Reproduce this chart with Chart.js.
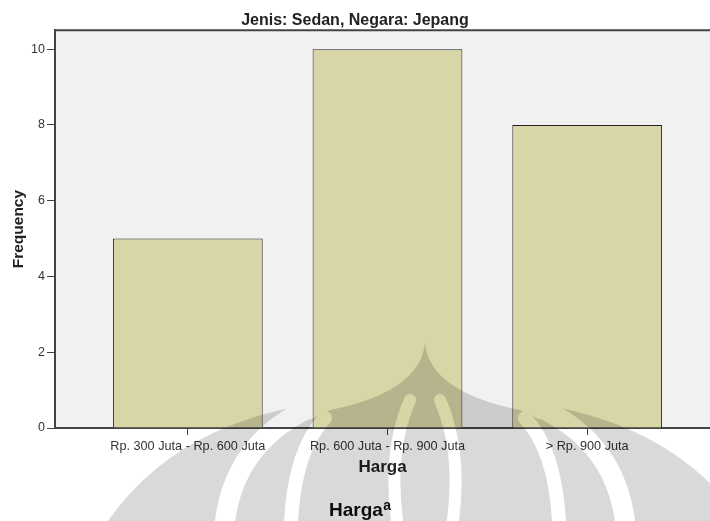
<!DOCTYPE html>
<html>
<head>
<meta charset="utf-8">
<script src="https://cdn.jsdelivr.net/npm/chart.js@4.4.1/dist/chart.umd.min.js"></script>
<style>
  html, body { margin: 0; padding: 0; background: #fff; overflow: hidden; }
  #wrap { width: 710px; height: 521px; position: relative; }
</style>
</head>
<body>
<div id="wrap"><canvas id="chart"></canvas></div>
<script>
const chartTitle = 'Jenis: Sedan, Negara: Jepang';
const hargaLabels = ['Rp. 300 Juta - Rp. 600 Juta', 'Rp. 600 Juta - Rp. 900 Juta', '> Rp. 900 Juta'];
const hargaPos = [0, 1, 2];
const frequency = [5, 10, 8];
const yTicks = [0, 2, 4, 6, 8, 10];

const FONT = '"Liberation Sans", Arial, Helvetica, sans-serif';
Chart.defaults.font.family = FONT;
Chart.defaults.color = '#333';

// grey plot background + top frame line
const plotFramePlugin = {
  id: 'plotFrame',
  beforeDraw(chart) {
    const { ctx, chartArea } = chart;
    ctx.save();
    ctx.fillStyle = '#f1f1f1';
    ctx.fillRect(chartArea.left, chartArea.top, chartArea.right - chartArea.left, chartArea.bottom - chartArea.top);
    ctx.strokeStyle = '#444';
    ctx.lineWidth = 2;
    ctx.beginPath();
    ctx.moveTo(chartArea.left, chartArea.top);
    ctx.lineTo(chartArea.right, chartArea.top);
    ctx.stroke();
    ctx.restore();
  }
};

// faint logo watermark laid over the page
function drawWatermark(ctx) {
  const off = document.createElement('canvas');
  off.width = 710;
  off.height = 521;
  const w = off.getContext('2d');
  w.fillStyle = '#000';

  w.beginPath();
  w.moveTo(312, 404);
  w.quadraticCurveTo(175, 425, 108, 521);
  w.lineTo(300, 521);
  w.closePath();
  w.fill();

  w.beginPath();
  w.moveTo(538, 404);
  w.quadraticCurveTo(675, 425, 742, 521);
  w.lineTo(550, 521);
  w.closePath();
  w.fill();

  w.beginPath();
  w.moveTo(425, 343);
  w.quadraticCurveTo(420, 392, 330, 410);
  w.quadraticCurveTo(250, 445, 246, 521);
  w.lineTo(604, 521);
  w.quadraticCurveTo(600, 445, 520, 410);
  w.quadraticCurveTo(430, 392, 425, 343);
  w.fill();

  w.globalCompositeOperation = 'destination-out';
  w.lineCap = 'round';
  const gaps = [
    [225, 521, 235, 445, 305, 410, 20],
    [291, 521, 295, 450, 325, 418, 14],
    [397, 521, 388, 450, 410, 400, 12],
    [453, 521, 462, 450, 440, 400, 12],
    [559, 521, 555, 450, 525, 418, 14],
    [625, 521, 615, 445, 545, 410, 20]
  ];
  gaps.forEach(g => {
    w.lineWidth = g[6];
    w.beginPath();
    w.moveTo(g[0], g[1] + 10);
    w.lineTo(g[0], g[1]);
    w.quadraticCurveTo(g[2], g[3], g[4], g[5]);
    w.stroke();
  });

  ctx.save();
  ctx.globalAlpha = 0.15;
  ctx.drawImage(off, 0, 0);
  ctx.restore();
}

const footerPlugin = {
  id: 'footerText',
  afterDraw(chart) {
    const { ctx } = chart;
    ctx.save();
    ctx.fillStyle = '#111';
    ctx.textBaseline = 'alphabetic';
    ctx.textAlign = 'left';
    ctx.font = 'bold 19px ' + FONT;
    ctx.fillText('Harga', 329, 516);
    const tw = ctx.measureText('Harga').width;
    ctx.font = 'bold 14px ' + FONT;
    ctx.fillText('a', 329 + tw + 0.5, 510);
    ctx.restore();
    drawWatermark(ctx);
  }
};

const ctx = document.getElementById('chart').getContext('2d');

new Chart(ctx, {
  type: 'bar',
  data: {
    datasets: [{
      label: 'Frequency',
      data: hargaPos.map((x, i) => ({ x: x, y: frequency[i] })),
      backgroundColor: '#d8d5a7',
      borderColor: '#222',
      borderWidth: 1,
      barPercentage: 0.75,
      categoryPercentage: 1.0
    }]
  },
  options: {
    animation: false,
    responsive: true,
    maintainAspectRatio: false,
    layout: { padding: { left: 0, right: 0, top: 0, bottom: 33 } },
    plugins: {
      legend: { display: false },
      tooltip: { enabled: false },
      title: {
        display: true,
        text: chartTitle,
        color: '#222',
        font: { size: 16, weight: 'bold', lineHeight: 1.2 },
        padding: { top: 11, bottom: 0 }
      }
    },
    scales: {
      x: {
        type: 'linear',
        offset: false,
        min: -0.665,
        max: 2.615,
        afterBuildTicks(scale) {
          scale.ticks = hargaPos.map(v => ({ value: v }));
        },
        afterFit(scale) {
          scale.height = 60;
        },
        ticks: {
          autoSkip: false,
          maxRotation: 0,
          font: { size: 12.7 },
          color: '#333',
          padding: 4,
          callback: (v, i) => hargaLabels[i]
        },
        grid: {
          offset: false,
          drawOnChartArea: false,
          drawTicks: true,
          tickLength: 7,
          color: '#444',
          lineWidth: 1
        },
        border: { display: true, color: '#444', width: 2 },
        title: {
          display: true,
          text: 'Harga',
          color: '#222',
          font: { size: 17, weight: 'bold', lineHeight: 1.2 },
          padding: { top: 0, bottom: 10 }
        }
      },
      y: {
        min: 0,
        max: 10.5,
        afterBuildTicks(scale) {
          scale.ticks = yTicks.map(v => ({ value: v }));
        },
        afterFit(scale) {
          scale.width = 55;
        },
        ticks: {
          font: { size: 12.5 },
          color: '#333',
          padding: 2
        },
        grid: {
          drawOnChartArea: false,
          drawTicks: true,
          tickLength: 8,
          color: '#444',
          lineWidth: 1
        },
        border: { display: true, color: '#444', width: 2 },
        title: {
          display: true,
          text: 'Frequency',
          color: '#222',
          font: { size: 15.5, weight: 'bold', lineHeight: 1.2 },
          padding: { top: 9, bottom: 0 }
        }
      }
    }
  },
  plugins: [plotFramePlugin, footerPlugin]
});
</script>
</body>
</html>
